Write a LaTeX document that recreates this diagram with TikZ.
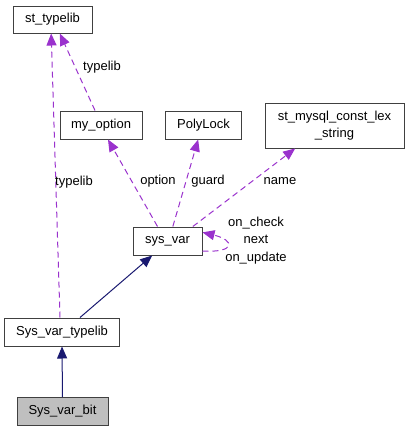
\documentclass[tikz,border=0pt]{standalone}
\usepackage{fontspec}
\setmainfont{Liberation Sans}
\usetikzlibrary{arrows.meta}
\definecolor{edgepurple}{HTML}{9A32CD}
\definecolor{edgenavy}{HTML}{191970}

\begin{document}
\begin{tikzpicture}[x=0.75pt, y=-0.75pt, font=\fontsize{9.75}{13}\selectfont]
  \tikzstyle{class box} = [draw=black!75, line width=0.75pt, fill=white, inner sep=0pt, minimum height=21pt, align=center]
  \tikzstyle{member} = [edgepurple, line width=0.75pt, dash pattern=on 4.5pt off 3pt, -{Triangle[length=9pt, width=7.5pt]}]
  \tikzstyle{base} = [edgenavy, line width=0.75pt, -{Triangle[length=9pt, width=7.5pt]}]
  \useasboundingbox (0, 0) rectangle (409, 432);
  \node[class box, minimum width=59.25pt, minimum height=20.25pt] (sttypelib) at (52.5, 19.5) {st\_typelib};
  \node[class box, minimum width=61.5pt] (myoption) at (101, 125) {my\_option};
  \node[class box, minimum width=57pt] (polylock) at (203.5, 125) {PolyLock};
  \node[class box, minimum width=104.25pt, minimum height=33.75pt] (stmysql) at (334.5, 125.5) {st\_mysql\_const\_lex\\\_string};
  \node[class box, minimum width=51.75pt] (sysvar) at (167.5, 241) {sys\_var};
  \node[class box, minimum width=86.25pt] (svtypelib) at (62, 332) {Sys\_var\_typelib};
  \node[class box, minimum width=68.25pt, fill=black!25] (svbit) at (62.5, 411.5) {Sys\_var\_bit};
  \draw[member] ([xshift=-1.5pt]svtypelib.north) -- ([xshift=-1pt]sttypelib.south);
  \draw[member] ([xshift=-4.5pt]myoption.north) -- ([xshift=5.5pt]sttypelib.south);
  \draw[member] ([xshift=-7.5pt]sysvar.north) -- ([xshift=5.25pt]myoption.south);
  \draw[member] ([xshift=4pt]sysvar.north) -- ([xshift=-4pt]polylock.south);
  \draw[member] ([xshift=19pt]sysvar.north) -- ([xshift=-29.5pt]stmysql.south);
  \draw[member] ([yshift=-7.5pt]sysvar.east) .. controls +(33, 2) and +(33, 8) .. ([yshift=6.5pt]sysvar.east);
  \draw[base] ([xshift=13.5pt]svtypelib.north) -- ([xshift=-11.5pt]sysvar.south);
  \draw[base] (svbit.north) -- (svtypelib.south);
  \node (lbltypelibA) at (74, 182) {typelib};
  \node (lbltypelibB) at (102, 67) {typelib};
  \node (lbloption) at (158, 181) {option};
  \node (lblguard) at (208, 181) {guard};
  \node (lblname) at (280, 181) {name};
  \node[align=center] (lblloop) at (256, 240.5) {on\_check\\next\\on\_update};
\end{tikzpicture}
\end{document}
